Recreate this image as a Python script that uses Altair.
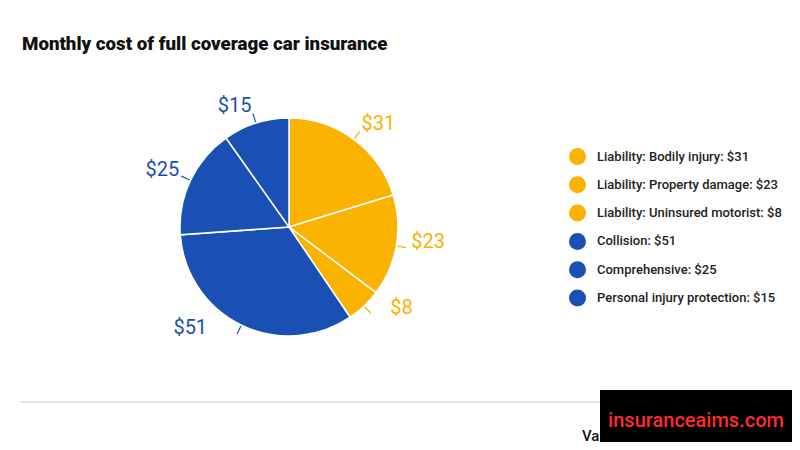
import altair as alt
import pandas as pd

categories = ["Liability: Bodily injury", "Liability: Property damage", "Liability: Uninsured motorist",
              "Collision", "Comprehensive", "Personal injury protection"]
values = [31, 23, 8, 51, 25, 15]
groups = ["Liability", "Liability", "Liability", "Other", "Other", "Other"]
title_text = "Monthly cost of full coverage car insurance"

YELLOW = "#F9B300"
BLUE = "#1A4FB3"

df = pd.DataFrame({
    "category": categories,
    "value": values,
    "order": list(range(len(values))),
})
df["legend"] = [f"{c}: ${v}" for c, v in zip(categories, values)]
df["label"] = [f"${v}" for v in values]
colors = [YELLOW if g == "Liability" else BLUE for g in groups]
domain = list(df["legend"])

CX, CY = 281, 219

color = alt.Color("legend:N",
                  scale=alt.Scale(domain=domain, range=colors),
                  legend=alt.Legend(title=None, orient="none", legendX=561, legendY=140,
                                    symbolType="circle", symbolSize=289, symbolStrokeWidth=0,
                                    labelFont="Roboto", labelFontSize=13, labelFontWeight=500,
                                    labelColor="#222222", rowPadding=11.3, labelOffset=11,
                                    labelLimit=0, symbolOpacity=1))

base = alt.Chart(df)

pie = base.mark_arc(outerRadius=109, stroke="white", strokeWidth=1.5).encode(
    theta=alt.Theta("value:Q", stack=True),
    color=color,
    order=alt.Order("order:Q"),
    x=alt.value(CX), y=alt.value(CY),
)

# per-label nudges (styling only), in slice order
label_offsets = [(12, 2), (11, -8), (23, -13), (-42, -16), (-9, -1), (-15, 3)]

label_layers = []
for i, (dx, dy) in enumerate(label_offsets):
    label_layers.append(
        base.transform_window(
            cum="sum(value)", sort=[alt.SortField("order")]
        ).transform_calculate(
            mid="datum.cum - datum.value / 2"
        ).transform_filter(
            alt.datum.order == i
        ).mark_text(radius=130, font="Roboto", fontSize=20, dx=dx, dy=dy,
                    align="center", baseline="middle").encode(
            theta=alt.Theta("mid:Q", scale=alt.Scale(domain=[0, sum(values)])),
            text="label:N",
            color=alt.Color("legend:N", scale=alt.Scale(domain=domain, range=colors), legend=None),
            x=alt.value(CX), y=alt.value(CY),
        )
    )

leaders = base.transform_window(
    cum="sum(value)", sort=[alt.SortField("order")]
).transform_calculate(
    mid="datum.cum - datum.value / 2"
).mark_arc(radius=110, radius2=119, strokeWidth=1.2, fillOpacity=0).encode(
    theta=alt.Theta("mid:Q", scale=alt.Scale(domain=[0, sum(values)])),
    theta2="mid:Q",
    stroke=alt.Color("legend:N", scale=alt.Scale(domain=domain, range=colors), legend=None),
    x=alt.value(CX), y=alt.value(CY),
)

title = alt.Chart(pd.DataFrame({"t": [title_text]})).mark_text(
    font="Roboto", fontSize=18.7, fontWeight=900, align="left", baseline="alphabetic", color="#111111"
).encode(text="t:N", x=alt.value(14), y=alt.value(42))

rule = alt.Chart(pd.DataFrame({"a": [0]})).mark_rule(color="#dddddd", strokeWidth=1.5).encode(
    x=alt.value(12), x2=alt.value(784), y=alt.value(394))

va = alt.Chart(pd.DataFrame({"t": ["Va"]})).mark_text(
    font="Roboto", fontSize=15, fontWeight=500, align="left", baseline="middle", color="#111111"
).encode(text="t:N", x=alt.value(574), y=alt.value(428))

box = alt.Chart(pd.DataFrame({"a": [0]})).mark_rect(color="black").encode(
    x=alt.value(592), x2=alt.value(784), y=alt.value(382), y2=alt.value(434))

wm = alt.Chart(pd.DataFrame({"t": ["insuranceaims.com"]})).mark_text(
    font="Roboto", fontSize=20, fontWeight=500, align="center", baseline="middle", color="#FF2B2B"
).encode(text="t:N", x=alt.value(688), y=alt.value(413))

chart = alt.layer(pie, leaders, *label_layers, title, rule, va, box, wm).properties(
    width=784, height=434,
    autosize=alt.AutoSizeParams(type="none"),
    padding=0,
).configure_view(stroke=None).resolve_scale(color="shared")

chart.save("out.html", embed_options={"renderer": "svg", "actions": False})
